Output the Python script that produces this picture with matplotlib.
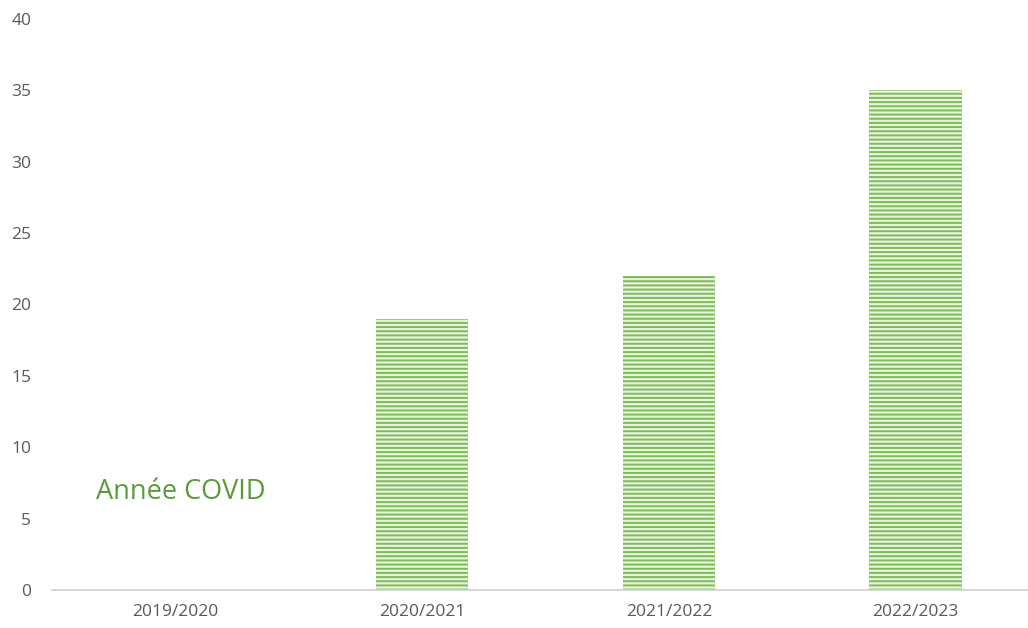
import matplotlib
matplotlib.use("Agg")
import matplotlib.pyplot as plt

categories = ["2019/2020", "2020/2021", "2021/2022", "2022/2023"]
values = [0, 19, 22, 35]
yticks = [0, 5, 10, 15, 20, 25, 30, 35, 40]

plt.rcParams['font.family'] = ['Open Sans', 'DejaVu Sans']
plt.rcParams['hatch.linewidth'] = 1.4
plt.rcParams['hatch.color'] = '#7FBA5A'

fig = plt.figure(figsize=(10.28, 6.28), dpi=100)
ax = fig.add_axes([52/1028, 1 - 590/628, 1 - 52/1028, (590 - 19)/628])

x = list(range(len(categories)))
ax.bar(x, values, width=0.375, color='#E6F4DC', edgecolor='#7FBA5A',
       linewidth=0, hatch='----')

ax.set_xlim(-0.5, 3.5 - 11/246)
ax.set_ylim(0, 40)
ax.set_yticks(yticks)
ax.set_xticks(x)
ax.set_xticklabels(categories)
for s in ['top', 'right', 'left']:
    ax.spines[s].set_visible(False)
ax.spines['bottom'].set_color('#D0D0D0')
ax.spines['bottom'].set_linewidth(1.2)
ax.tick_params(axis='both', length=0, colors='#595959', labelsize=12.5)
ax.tick_params(axis='y', pad=15)
ax.tick_params(axis='x', pad=10)

ax.text(-0.32, 6.9, "Année COVID", color='#5B9A3C', fontsize=19.5, va='center', ha='left')

fig.savefig("out.png", dpi=100)
